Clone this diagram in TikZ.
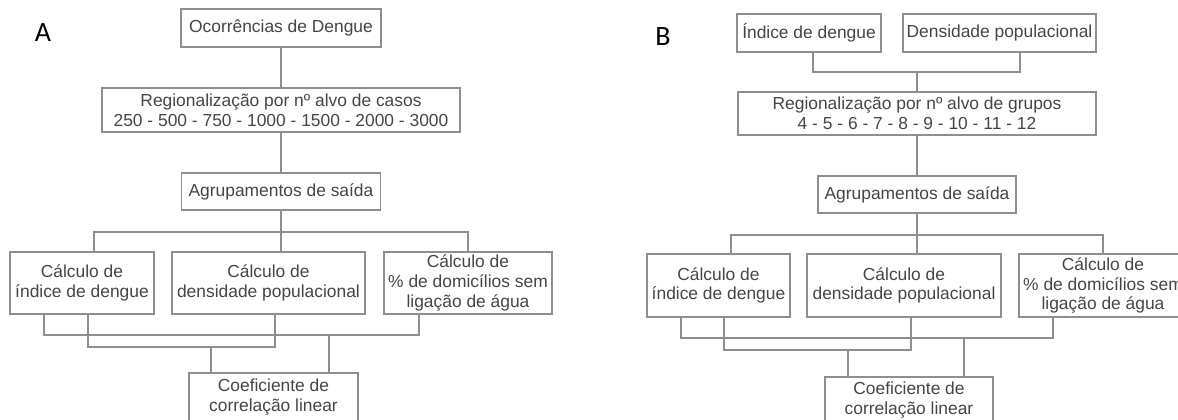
\documentclass[tikz,border=0pt]{standalone}
\usepackage{fontspec}
\setmainfont{Liberation Sans}
\newfontfamily\panelfont{Carlito}
\definecolor{linegray}{HTML}{8E8E8E}
\definecolor{textgray}{HTML}{454545}

\begin{document}
\begin{tikzpicture}[x = 1pt, y = -1pt,
    box/.style = {draw = linegray, line width = 1.2pt, text = textgray, align = center, inner sep = 0pt,
        font = \fontsize{17.4}{19.6}\selectfont},
    wire/.style = {draw = linegray, line width = 1.2pt},
    panel/.style = {font = \panelfont\fontsize{28}{30}\selectfont}]
    \useasboundingbox (0,0) rectangle (1178,420);

    % A
    \node[panel] (labA) at (43,33) {A};
    \node[box, minimum width = 200pt, minimum height = 38pt] (occA) at (281,28) {Ocorrências de Dengue};
    \node[box, minimum width = 358pt, minimum height = 44pt] (regA) at (281,110) {Regionalização por nº alvo de casos\\ 250 - 500 - 750 - 1000 - 1500 - 2000 - 3000};
    \node[box, minimum width = 199pt, minimum height = 37pt] (agrA) at (281,191.5) {Agrupamentos de saída};
    \node[box, minimum width = 144pt, minimum height = 62pt] (indA) at (82,283) {Cálculo de\\índice de dengue};
    \node[box, minimum width = 193pt, minimum height = 62pt] (denA) at (268.5,283) {Cálculo de\\densidade populacional};
    \node[box, minimum width = 168pt, minimum height = 62pt] (agua A) at (468,283) {Cálculo de\\\% de domicílios sem\\ligação de água};
    \node[box, minimum width = 169pt, minimum height = 48pt] (coefA) at (273.5,397) {Coeficiente de\\correlação linear};
    \coordinate (busA) at (281,232);
    \coordinate (lowA1) at (329,335);
    \coordinate (lowA2) at (211,347);

    \draw[wire] (occA) -- (regA);
    \draw[wire] (regA) -- (agrA);
    \draw[wire] (agrA.south) -- (agrA.south |- denA.north);
    \draw[wire] ([xshift = 12pt]indA.north) |- (busA) -| (agua A.north);
    \draw[wire] ([xshift = -38pt]indA.south) |- (lowA1) -| ([xshift = -49pt]agua A.south);
    \draw[wire] ([xshift = 6pt]indA.south) |- (lowA2) -| ([xshift = 6.5pt]denA.south);
    \draw[wire] (lowA1) -- (lowA1 |- coefA.north);
    \draw[wire] (lowA2) -- (lowA2 |- coefA.north);

    % B
    \node[panel] (labB) at (663,37) {B};
    \node[box, minimum width = 144pt, minimum height = 38pt] (idxB) at (809,33) {Índice de dengue};
    \node[box, minimum width = 193pt, minimum height = 38pt] (popB) at (999.5,33) {Densidade populacional};
    \node[box, minimum width = 358pt, minimum height = 43pt] (regB) at (917,113.5) {Regionalização por nº alvo de grupos\\4 - 5 - 6 - 7 - 8 - 9 - 10 - 11 - 12};
    \node[box, minimum width = 198pt, minimum height = 37pt] (agrB) at (917,194.5) {Agrupamentos de saída};
    \node[box, minimum width = 143pt, minimum height = 63pt] (indB) at (718.5,285.5) {Cálculo de\\índice de dengue};
    \node[box, minimum width = 194pt, minimum height = 63pt] (denB) at (904,285.5) {Cálculo de\\densidade populacional};
    \node[box, minimum width = 168pt, minimum height = 63pt] (agua B) at (1103,285.5) {Cálculo de\\\% de domicílios sem\\ligação de água};
    \node[box, minimum width = 168pt, minimum height = 46pt] (coefB) at (909,400) {Coeficiente de\\correlação linear};
    \coordinate (topB) at (917,72);
    \coordinate (busB) at (917,235);
    \coordinate (lowB1) at (964,338);
    \coordinate (lowB2) at (848,350);

    \draw[wire] ([xshift = 4pt]idxB.south) |- (topB) -| ([xshift = 20.5pt]popB.south);
    \draw[wire] (topB) -- (regB.north);
    \draw[wire] (regB) -- (agrB);
    \draw[wire] (agrB.south) -- (agrB.south |- denB.north);
    \draw[wire] ([xshift = 12.5pt]indB.north) |- (busB) -| (agua B.north);
    \draw[wire] ([xshift = -37.5pt]indB.south) |- (lowB1) -| ([xshift = -50pt]agua B.south);
    \draw[wire] ([xshift = 5.5pt]indB.south) |- (lowB2) -| ([xshift = 7pt]denB.south);
    \draw[wire] (lowB1) -- (lowB1 |- coefB.north);
    \draw[wire] (lowB2) -- (lowB2 |- coefB.north);
\end{tikzpicture}
\end{document}
